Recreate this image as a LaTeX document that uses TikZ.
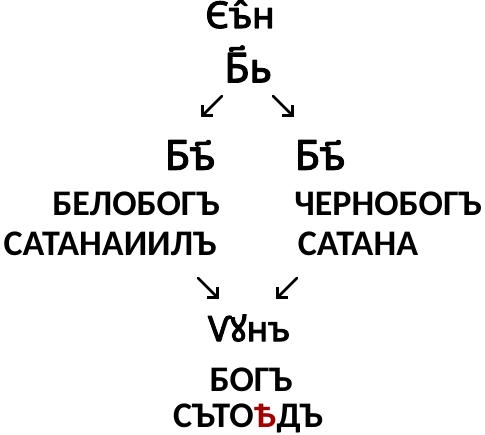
\documentclass[tikz,border=0pt]{standalone}
\usepackage{fontspec}
\setmainfont{Carlito}
\newfontfamily\slav[FakeBold=3]{Noto Sans}
\usetikzlibrary{arrows.meta}
\definecolor{darkred}{RGB}{160,0,0}
\begin{document}
\begin{tikzpicture}[x=1pt, y=-1pt, line cap=round, line join=round,
	word/.style={font=\fontsize{36}{36}\selectfont\bfseries, inner sep=0pt},
	slavword/.style={font=\fontsize{41}{41}\slav, inner sep=0pt},
	arr/.style={line width=2.6pt, -{Straight Barb[angle=90:10.5pt, line cap=butt]}}]
	\useasboundingbox (0,0) rectangle (485,435);
	% upper part
	\node[slavword, font=\fontsize{37}{37}\slav] (son) at (240,14) {Єъ̂н};
	\node[slavword] (bog) at (248,64) {Б҃ь};
	\coordinate (l1s) at (222,96); \coordinate (l1e) at (201,117);
	\coordinate (r1s) at (273,96); \coordinate (r1e) at (294,117);
	\draw[arr] (l1s) -- (l1e);
	\draw[arr] (r1s) -- (r1e);
	% two gods
	\node[slavword] (bl) at (190,155) {Бъ҃};
	\node[slavword] (br) at (320,155) {Бъ҃};
	\node[word] (belobog) at (136,204) {БЕЛОБОГЪ};
	\node[word] (chernobog) at (388,204) {ЧЕРНОБОГЪ};
	\node[word] (satanail) at (110,244) {САТАНАИИЛЪ};
	\node[word] (satana) at (358,244) {САТАНА};
	\coordinate (l2s) at (198,278); \coordinate (l2e) at (219,299);
	\coordinate (r2s) at (297,278); \coordinate (r2e) at (276,299);
	\draw[arr] (l2s) -- (l2e);
	\draw[arr] (r2s) -- (r2e);
	% lower part
	\node[slavword, font=\fontsize{35}{35}\slav] (umn) at (249,328) {Ѵꙋнъ};
	\node[word] (bogu) at (251,380) {БОГЪ};
	\node[word] (sotvor) at (248,418) {СЪТО\textcolor{darkred}{Ѣ}ДЪ};
\end{tikzpicture}
\end{document}
